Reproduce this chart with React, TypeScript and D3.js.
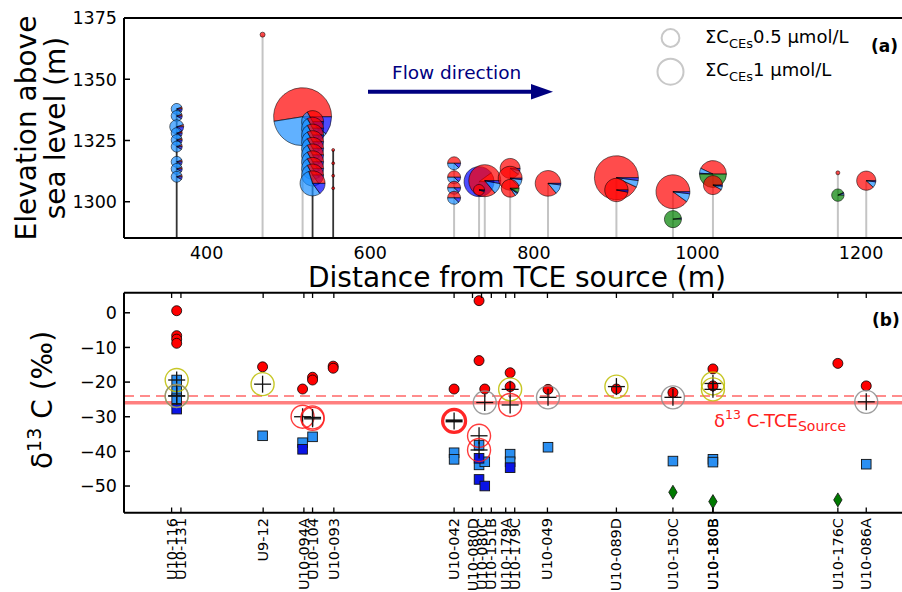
import React from "react";
import * as d3 from "d3";

// ---- panel (a): wells along the flow path ----
// stems: distance from TCE source (m), dark = multilevel well
const stemDist = [363.4, 468.4, 517.3, 529.5, 554.7, 702.5, 733, 740, 771, 817.3, 900.9, 970, 1018.9, 1171.6, 1206.3];
const stemDark = [true, false, false, true, true, false, false, false, false, false, false, false, false, false, false];

// pies: [distance, elevation, sum CEs (umol/L), PCE/TCE red, cDCE light blue, VC blue, ethene green]
const pies = [
  [363.4, 1337.9, 0.154, 0.06, 0.86, 0.08, 0],
  [363.4, 1335.0, 0.154, 0.06, 0.86, 0.08, 0],
  [363.4, 1330.6, 0.25, 0.05, 0.8, 0.15, 0],
  [363.4, 1328.0, 0.154, 0.06, 0.86, 0.08, 0],
  [363.4, 1325.2, 0.154, 0.06, 0.86, 0.08, 0],
  [363.4, 1322.5, 0.154, 0.06, 0.86, 0.08, 0],
  [363.4, 1316.3, 0.154, 0.06, 0.86, 0.08, 0],
  [363.4, 1313.4, 0.154, 0.06, 0.86, 0.08, 0],
  [363.4, 1310.2, 0.154, 0.06, 0.86, 0.08, 0],
  [468.4, 1368.2, 0.032, 1, 0, 0, 0],
  [517.3, 1334.7, 4.29, 0.525, 0.375, 0.1, 0],
  [529.5, 1332.7, 0.62, 0.33, 0.52, 0.15, 0],
  [529.5, 1330.0, 0.62, 0.33, 0.52, 0.15, 0],
  [529.5, 1327.2, 0.62, 0.33, 0.52, 0.15, 0],
  [529.5, 1324.5, 0.62, 0.33, 0.52, 0.15, 0],
  [529.5, 1321.8, 0.62, 0.33, 0.52, 0.15, 0],
  [529.5, 1319.1, 0.62, 0.33, 0.52, 0.15, 0],
  [529.5, 1316.3, 0.62, 0.33, 0.52, 0.15, 0],
  [529.5, 1313.6, 0.62, 0.33, 0.52, 0.15, 0],
  [529.5, 1310.9, 0.62, 0.33, 0.52, 0.15, 0],
  [529.5, 1307.5, 0.8, 0.3, 0.55, 0.15, 0],
  [554.7, 1321.1, 0.011, 1, 0, 0, 0],
  [554.7, 1315.7, 0.011, 1, 0, 0, 0],
  [554.7, 1310.6, 0.011, 1, 0, 0, 0],
  [554.7, 1305.5, 0.011, 1, 0, 0, 0],
  [702.5, 1315.7, 0.216, 0.5, 0.38, 0.12, 0],
  [702.5, 1310.0, 0.216, 0.5, 0.38, 0.12, 0],
  [702.5, 1305.7, 0.216, 0.5, 0.38, 0.12, 0],
  [702.5, 1301.6, 0.216, 0.5, 0.38, 0.12, 0],
  [733, 1308.2, 1.15, 0.1, 0, 0.9, 0],
  [740, 1308.6, 1.31, 0.86, 0.11, 0.03, 0],
  [733, 1304.8, 0.154, 0.95, 0.03, 0.02, 0],
  [771, 1313.6, 0.51, 0.9, 0.06, 0.04, 0],
  [771, 1309.6, 0.73, 0.88, 0.1, 0.02, 0],
  [771, 1305.5, 0.41, 0.85, 0.05, 0.02, 0.08],
  [817.3, 1307.5, 0.84, 0.86, 0.12, 0.02, 0],
  [900.9, 1309.8, 2.47, 0.93, 0.05, 0.02, 0],
  [900.9, 1304.8, 0.7, 0.97, 0, 0.03, 0],
  [970, 1304.1, 1.47, 0.9, 0.08, 0.02, 0],
  [970, 1292.9, 0.37, 0, 0, 0.02, 0.98],
  [1018.9, 1311.3, 0.93, 0.43, 0.06, 0.01, 0.5],
  [1018.9, 1306.8, 0.46, 0.92, 0.06, 0.02, 0],
  [1171.6, 1311.8, 0.02, 1, 0, 0, 0],
  [1171.6, 1302.7, 0.196, 0, 0.05, 0.02, 0.93],
  [1206.3, 1308.6, 0.47, 0.88, 0.1, 0.02, 0],
];
const pieColors = ["#ff0000", "#1e90ff", "#0000ff", "#008000"];
const legendConc = [0.5, 1];
const elevTicks = [1300, 1325, 1350, 1375];
const distTicks = [400, 600, 800, 1000, 1200];

// ---- panel (b): d13C (permil) ----
const wellLabels = ["U10-116", "U10-131", "U9-12", "U10-094A", "U10-104", "U10-093", "U10-042", "U10-080D", "U10-080C", "U10-151B", "U10-179A", "U10-179C", "U10-049", "U10-089D", "U10-150C", "U10-180B", "U10-180B", "U10-176C", "U10-086A"];
const labelDist = [357.2, 368.6, 469.1, 518.9, 529.5, 555.5, 702.5, 725, 736, 748, 765.6, 776.6, 816.6, 900.9, 970, 1018.6, 1019.2, 1171.6, 1206.3];

const pceTce = [
  [363.4, 0.6], [363.4, -6.6], [363.4, -7.6], [363.4, -8.8], [468.4, -15.6], [517.3, -22.0],
  [529.5, -18.6], [529.5, -19.4], [554.7, -15.4], [554.7, -16.0], [702.5, -22.0], [733, 3.5],
  [733, -13.8], [740, -22.0], [771, -17.3], [771, -21.3], [817.3, -22.1], [900.9, -22.0],
  [970, -23.0], [1018.9, -16.2], [1018.9, -21.1], [1171.6, -14.6], [1206.3, -21.1],
];
const cDce = [
  [363.4, -19.4], [363.4, -22.5], [363.4, -24.8], [468.4, -35.5], [517.3, -37.5], [529.5, -35.8],
  [702.5, -40.4], [702.5, -42.3], [733, -38.2], [733, -43.9], [740, -43.0], [771, -40.8],
  [771, -43.0], [817.3, -38.8], [970, -42.8], [1018.9, -42.3], [1018.9, -43.1], [1206.3, -43.7],
];
const vc = [[363.4, -27.8], [517.3, -39.4], [733, -42.0], [733, -48.1], [740, -50.0], [771, -44.7]];
const ethene = [[970, -51.8], [1018.9, -54.5], [1171.6, -54.0]];
// isotope balance: [distance, value, kind]
const balance = [
  [363.4, -19.4, "y"], [363.4, -24.0, "y"], [363.4, -24.0, "g"], [468.4, -20.6, "y"],
  [517.3, -30.0, "r"], [529.5, -30.2, "r"], [529.5, -30.6, "r"], [702.5, -31.2, "R"],
  [733, -35.5, "r"], [733, -39.6, "r"], [740, -25.9, "g"], [771, -22.1, "y"], [771, -26.6, "r"],
  [817.3, -24.4, "g"], [900.9, -21.3, "y"], [970, -24.4, "g"], [1018.9, -20.4, "y"],
  [1018.9, -22.1, "y"], [1206.3, -25.7, "g"],
];
const d13Ticks = [0, -10, -20, -30, -40, -50];
const sourceMean = -26;
const sourceUpper = -24;

const font = "DejaVu Sans, sans-serif";
const L = 124, R = 902;

export default function App() {
  const x = d3.scaleLinear().domain([299, 1250]).range([L, R]);
  const yA = d3.scaleLinear().domain([1285.2, 1375]).range([238, 18]);
  const yB = d3.scaleLinear().domain([-57.7, 5.8]).range([512.7, 292.7]);
  const rS = d3.scaleSqrt().domain([0, 1]).range([0, 14]);
  const arc = d3.arc();

  const stemTop = stemDist.map((d) => d3.max(pies.filter((p) => p[0] === d), (p) => p[1]));

  const pieEls = pies.map((p, i) => {
    const [d, e, c] = p;
    const r = rS(c);
    let cum = 0;
    const wedges = [];
    for (let k = 0; k < 4; k++) {
      const f = p[3 + k];
      if (f <= 0) continue;
      const t0 = cum * 2 * Math.PI, t1 = (cum + f) * 2 * Math.PI;
      cum += f;
      wedges.push(
        <path key={k}
          d={arc({ innerRadius: 0, outerRadius: r, startAngle: Math.PI / 2 - t1, endAngle: Math.PI / 2 - t0 })}
          fill={pieColors[k]} fillOpacity={0.7} stroke="#000" strokeOpacity={0.6} strokeWidth={0.9} />
      );
    }
    return <g key={i} transform={`translate(${x(d)},${yA(e)})`}>{wedges}</g>;
  });

  const balColor = { y: "#bdbd00", g: "#8c8c8c", r: "#ff1a1a", R: "#ff0000" };

  return (
    <svg width={902} height={592} style={{ position: "absolute", left: 0, top: 0, background: "#fff" }} fontFamily={font}>
      <defs>
        <clipPath id="clipA"><rect x={L} y={18} width={R - L} height={220} /></clipPath>
      </defs>

      {/* ---------- panel (a) ---------- */}
      <g clipPath="url(#clipA)">
        {stemDist.map((d, i) => (
          <line key={i} x1={x(d)} x2={x(d)} y1={238} y2={yA(stemTop[i])}
            stroke={stemDark[i] ? "#333" : "#c4c4c4"} strokeWidth={stemDark[i] ? 1.8 : 2} />
        ))}
        {pieEls}
      </g>
      <line x1={L} x2={R} y1={18} y2={18} stroke="#000" strokeWidth={2} />
      <line x1={L} x2={R} y1={238} y2={238} stroke="#000" strokeWidth={2} />
      <line x1={L} x2={L} y1={18} y2={238} stroke="#000" strokeWidth={2} />
      {elevTicks.map((t) => (
        <g key={t}>
          <line x1={L} x2={L + 6} y1={yA(t)} y2={yA(t)} stroke="#000" strokeWidth={1.5} />
          <text x={117} y={yA(t)} dy="0.36em" textAnchor="end" fontSize={17.5}>{t}</text>
        </g>
      ))}
      {distTicks.map((t) => (
        <text key={t} x={x(t)} y={258.5} textAnchor="middle" fontSize={17.5}>{t}</text>
      ))}
      <text x={517} y={287} textAnchor="middle" fontSize={28}>Distance from TCE source (m)</text>
      <text transform="translate(36,128) rotate(-90)" textAnchor="middle" fontSize={28}>Elevation above</text>
      <text transform="translate(65,128) rotate(-90)" textAnchor="middle" fontSize={28}>sea level (m)</text>

      {/* flow arrow */}
      <text x={392} y={79} fontSize={18.5} fill="#000080">Flow direction</text>
      <line x1={368} x2={534} y1={91.7} y2={91.7} stroke="#000080" strokeWidth={4} />
      <polygon points="531,84 553,91.7 531,99.5" fill="#000080" />

      {/* size legend */}
      {legendConc.map((c, i) => (
        <g key={c}>
          <circle cx={670.5} cy={i === 0 ? 38 : 71.7} r={rS(c) - 1} fill="none" stroke="#c8c8c8" strokeWidth={2} />
          <text x={705} y={i === 0 ? 43.3 : 75.5} fontSize={18}>
            ΣC<tspan dy={5} fontSize={13}>CEs</tspan><tspan dy={-5}>{c} µmol/L</tspan>
          </text>
        </g>
      ))}
      <text x={871} y={51.7} fontSize={17} fontWeight="bold">(a)</text>

      {/* ---------- panel (b) ---------- */}
      <line x1={L} x2={R} y1={yB(sourceMean)} y2={yB(sourceMean)} stroke="#ff0000" strokeOpacity={0.5} strokeWidth={3.5} />
      <line x1={L} x2={R} y1={yB(sourceUpper)} y2={yB(sourceUpper)} stroke="#ff0000" strokeOpacity={0.45} strokeWidth={2} strokeDasharray="10,6" />
      <text x={714} y={426.7} fontSize={18} fill="#ff2020">
        δ<tspan dy={-8} fontSize={12.5}>13</tspan><tspan dy={8}> C-TCE</tspan><tspan dy={4} fontSize={14}>Source</tspan>
      </text>

      {pceTce.map(([d, v], i) => (
        <circle key={"p" + i} cx={x(d)} cy={yB(v)} r={5} fill="#ff0000" stroke="#000" strokeWidth={0.8} />
      ))}
      {cDce.map(([d, v], i) => (
        <rect key={"c" + i} x={x(d) - 4.8} y={yB(v) - 4.8} width={9.6} height={9.6} fill="#2a8ff2" stroke="#111" strokeWidth={0.9} />
      ))}
      {vc.map(([d, v], i) => (
        <rect key={"v" + i} x={x(d) - 4.8} y={yB(v) - 4.8} width={9.6} height={9.6} fill="#0a14e6" stroke="#111" strokeWidth={0.9} />
      ))}
      {ethene.map(([d, v], i) => (
        <path key={"e" + i} d={`M${x(d)},${yB(v) - 7}L${x(d) + 4.2},${yB(v)}L${x(d)},${yB(v) + 7}L${x(d) - 4.2},${yB(v)}Z`}
          fill="#007a00" stroke="#111" strokeWidth={0.8} />
      ))}
      {balance.map(([d, v, k], i) => (
        <g key={"b" + i}>
          <circle cx={x(d)} cy={yB(v)} r={11.5} fill="none" stroke={balColor[k]} strokeOpacity={0.85} strokeWidth={k === "R" ? 3.2 : 1.4} />
          <line x1={x(d) - 8.5} x2={x(d) + 8.5} y1={yB(v)} y2={yB(v)} stroke="#111" strokeWidth={k === "R" ? 3 : 1.3} />
          <line x1={x(d)} x2={x(d)} y1={yB(v) - 8.5} y2={yB(v) + 8.5} stroke="#111" strokeWidth={1.3} />
        </g>
      ))}

      <line x1={L} x2={R} y1={292.7} y2={292.7} stroke="#000" strokeWidth={2} />
      <line x1={L} x2={R} y1={512.7} y2={512.7} stroke="#000" strokeWidth={2} />
      <line x1={L} x2={L} y1={292.7} y2={512.7} stroke="#000" strokeWidth={2} />
      {d13Ticks.map((t) => (
        <g key={t}>
          <line x1={L} x2={L + 6} y1={yB(t)} y2={yB(t)} stroke="#000" strokeWidth={1.5} />
          <text x={117} y={yB(t)} dy="0.36em" textAnchor="end" fontSize={17.5}>{t === 0 ? "0" : "\u2212" + Math.abs(t)}</text>
        </g>
      ))}
      {labelDist.map((d, i) => (
        <g key={"t" + i}>
          <line x1={x(d)} x2={x(d)} y1={292.7} y2={298} stroke="#000" strokeWidth={1.3} />
          <line x1={x(d)} x2={x(d)} y1={507.5} y2={512.7} stroke="#000" strokeWidth={1.3} />
          <text transform={`translate(${x(d) + 5},518) rotate(-90)`} textAnchor="end" fontSize={14.5}>{wellLabels[i]}</text>
        </g>
      ))}
      <text transform="translate(52,400) rotate(-90)" textAnchor="middle" fontSize={28}>
        δ<tspan dy={-11} fontSize={19}>13</tspan><tspan dy={11}> C (‰)</tspan>
      </text>
      <text x={872} y={326} fontSize={17} fontWeight="bold">(b)</text>
    </svg>
  );
}
